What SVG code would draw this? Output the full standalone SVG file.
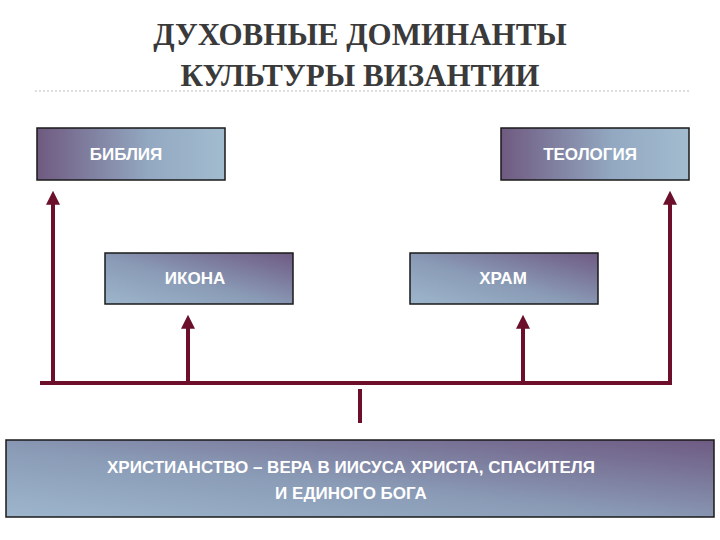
<svg xmlns="http://www.w3.org/2000/svg" width="720" height="540" viewBox="0 0 720 540">
<defs>
<linearGradient id="gH" x1="0" y1="0" x2="1" y2="0"><stop offset="0" stop-color="#6f5a80"/><stop offset="0.6" stop-color="#93a9c2"/><stop offset="1" stop-color="#a2bccf"/></linearGradient>
<linearGradient id="gD" x1="0" y1="1" x2="1" y2="0"><stop offset="0" stop-color="#9db6cc"/><stop offset="0.45" stop-color="#8a9bb6"/><stop offset="1" stop-color="#6e5a82"/></linearGradient>
<marker id="ar" viewBox="0 0 10 10" refX="2" refY="5" markerWidth="3.5" markerHeight="3.5" orient="auto" markerUnits="strokeWidth"><path d="M0,0 L10,5 L0,10 Z" fill="#6b0f2a"/></marker>
</defs>
<style>
.t{font-family:"Liberation Serif","DejaVu Serif",serif;font-weight:bold;font-size:31px;fill:#3a3a3a;text-anchor:middle}
.b{stroke:#1a1a1a;stroke-width:1.5}
.l{font-family:"Liberation Sans",Arial,sans-serif;font-size:17px;font-weight:bold;fill:#fff;text-anchor:middle}
.c{stroke:#6b0f2a;stroke-width:4;fill:none}
</style>
<text class="t" x="360" y="45">ДУХОВНЫЕ ДОМИНАНТЫ</text>
<text class="t" x="360" y="86">КУЛЬТУРЫ ВИЗАНТИИ</text>
<line x1="35" y1="91" x2="690" y2="91" stroke="#bbb" stroke-dasharray="2,2"/>
<g id="connectors">
<line class="c" x1="40" y1="383" x2="672" y2="383"/>
<line class="c" x1="360" y1="389" x2="360" y2="423"/>
<line class="c" x1="53" y1="383" x2="53" y2="202" marker-end="url(#ar)"/>
<line class="c" x1="188" y1="383" x2="188" y2="326" marker-end="url(#ar)"/>
<line class="c" x1="523" y1="383" x2="523" y2="326" marker-end="url(#ar)"/>
<line class="c" x1="670" y1="383" x2="670" y2="202" marker-end="url(#ar)"/>
</g>
<g id="bible"><rect class="b" x="37" y="128" width="188" height="52" fill="url(#gH)"/><text class="l" x="126" y="160">БИБЛИЯ</text></g>
<g id="theology"><rect class="b" x="501" y="128" width="188" height="52" fill="url(#gH)"/><text class="l" x="590" y="160">ТЕОЛОГИЯ</text></g>
<g id="icon"><rect class="b" x="105" y="253" width="188" height="51" fill="url(#gD)"/><text class="l" x="195" y="284">ИКОНА</text></g>
<g id="temple"><rect class="b" x="410" y="253" width="188" height="51" fill="url(#gD)"/><text class="l" x="503" y="284">ХРАМ</text></g>
<g id="christianity"><rect class="b" x="6" y="440" width="708" height="77" fill="url(#gD)"/>
<text class="l" x="351" y="473">ХРИСТИАНСТВО – ВЕРА В ИИСУСА ХРИСТА, СПАСИТЕЛЯ</text>
<text class="l" x="351" y="499">И ЕДИНОГО БОГА</text></g>
</svg>
